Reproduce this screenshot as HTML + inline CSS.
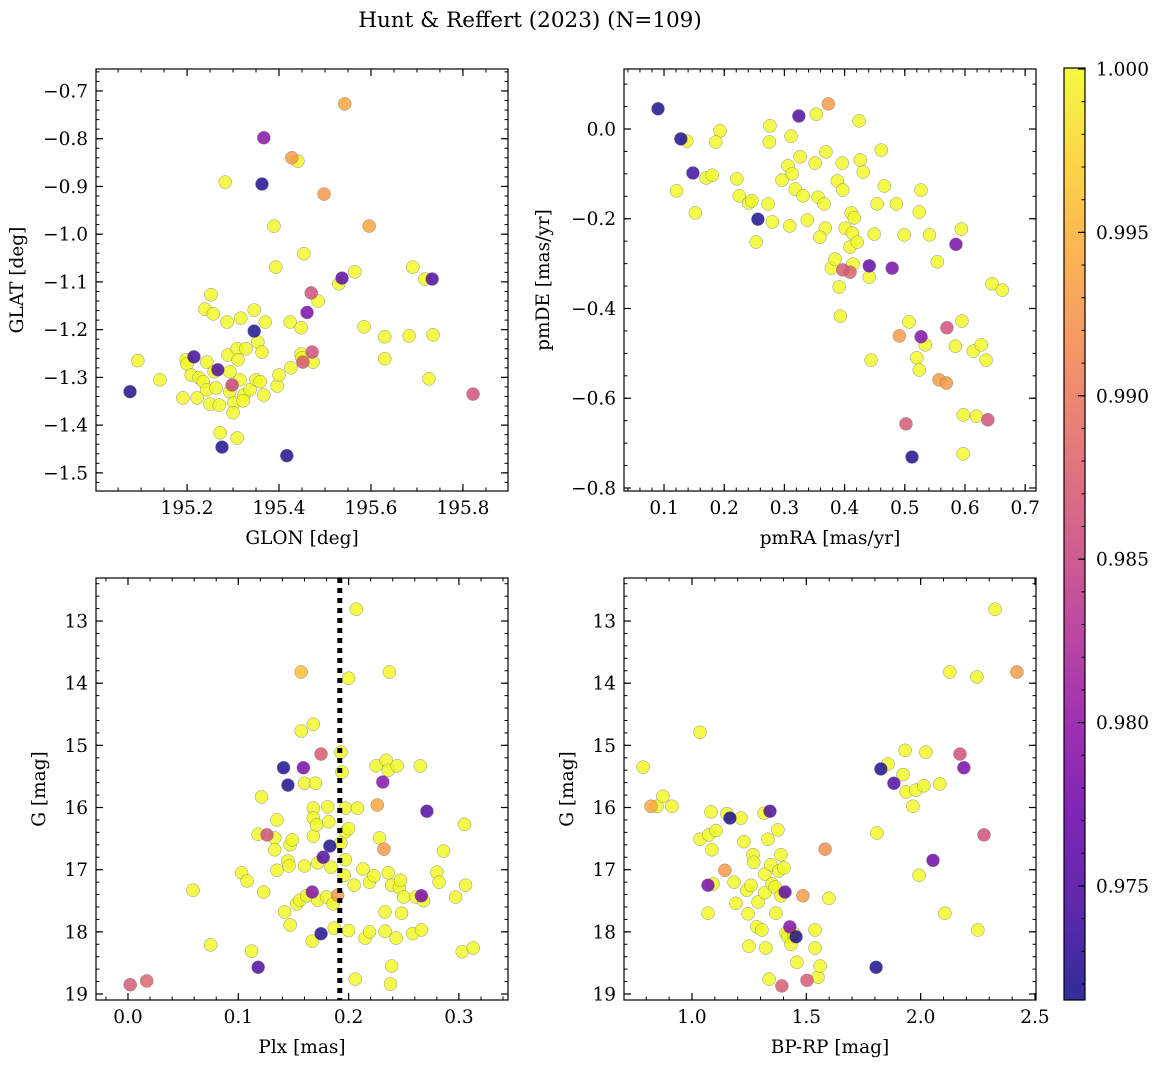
<!DOCTYPE html>
<html><head><meta charset="utf-8"><style>
html,body{margin:0;padding:0;background:#fff;}
svg{display:block;font-family:"DejaVu Serif","Liberation Serif",serif;}
</style></head><body>
<svg id="fig" width="1161" height="1068" viewBox="0 0 1161 1068" xmlns="http://www.w3.org/2000/svg">
<text x="530" y="27" font-size="21.5" text-anchor="middle">Hunt &amp; Reffert (2023) (N=109)</text>
</svg>
<script>
// ---- data: top-left (GLON vs GLAT) ----
const glon=[195.076,195.093,195.141,195.191,195.198,195.200,195.215,195.209,195.222,195.226,195.235,195.243,195.239,195.252,195.257,195.243,195.250,195.259,195.263,195.270,195.272,195.276,195.267,195.283,195.287,195.289,195.293,195.298,195.293,195.302,195.300,195.309,195.311,195.315,195.309,195.317,195.324,195.322,195.328,195.337,195.346,195.346,195.350,195.354,195.363,195.367,195.359,195.367,195.363,195.389,195.393,195.370,195.396,195.400,195.426,195.424,195.448,195.428,195.441,195.448,195.450,195.417,195.452,195.454,195.461,195.470,195.472,195.474,195.485,195.498,195.530,195.537,195.565,195.543,195.585,195.596,195.630,195.630,195.683,195.691,195.717,195.726,195.733,195.735,195.822];
const glat=[-1.330,-1.265,-1.305,-1.343,-1.263,-1.272,-1.257,-1.295,-1.343,-1.301,-1.309,-1.268,-1.157,-1.127,-1.167,-1.326,-1.356,-1.288,-1.322,-1.358,-1.416,-1.446,-1.284,-0.891,-1.184,-1.253,-1.288,-1.316,-1.330,-1.353,-1.374,-1.240,-1.263,-1.305,-1.427,-1.176,-1.337,-1.349,-1.240,-1.326,-1.203,-1.159,-1.305,-1.226,-1.247,-1.337,-1.309,-0.798,-0.895,-0.983,-1.069,-1.184,-1.318,-1.295,-1.280,-1.184,-1.196,-0.840,-0.847,-1.251,-1.259,-1.464,-1.268,-1.041,-1.164,-1.123,-1.247,-1.268,-1.140,-0.916,-1.104,-1.092,-1.079,-0.727,-1.194,-0.983,-1.215,-1.261,-1.213,-1.069,-1.094,-1.303,-1.094,-1.211,-1.335];
const probTL=[.972,1,1,1,1,1,.974,1,1,1,1,1,1,1,1,1,1,1,1,1,1,.972,.975,1,1,1,1,.985,1,1,1,1,1,1,1,1,1,1,1,1,.972,1,1,1,1,1,1,.979,.972,1,1,1,1,1,1,1,1,.993,1,1,1,.972,.987,1,.978,.986,.986,1,1,.993,1,.976,1,.994,1,.994,1,1,1,1,1,1,.975,1,.986];
// ---- data: top-right (pmRA vs pmDE) ----
const pmra=[0.090,0.128,0.121,0.138,0.148,0.152,0.193,0.186,0.170,0.180,0.221,0.225,0.241,0.246,0.256,0.253,0.276,0.275,0.273,0.280,0.296,0.306,0.311,0.313,0.309,0.318,0.326,0.324,0.331,0.338,0.351,0.353,0.356,0.366,0.368,0.369,0.373,0.359,0.378,0.388,0.396,0.397,0.384,0.391,0.401,0.409,0.411,0.416,0.413,0.393,0.397,0.409,0.414,0.421,0.424,0.426,0.431,0.441,0.441,0.444,0.449,0.454,0.461,0.466,0.479,0.486,0.491,0.502,0.499,0.507,0.512,0.520,0.524,0.524,0.527,0.534,0.541,0.554,0.557,0.569,0.570,0.585,0.584,0.594,0.595,0.597,0.597,0.614,0.619,0.627,0.635,0.638,0.645,0.662,0.527];
const pmde=[0.045,-0.022,-0.138,-0.027,-0.098,-0.187,-0.004,-0.029,-0.109,-0.103,-0.111,-0.149,-0.165,-0.160,-0.201,-0.252,0.007,-0.029,-0.167,-0.207,-0.114,-0.082,-0.016,-0.100,-0.216,-0.134,-0.062,0.029,-0.149,-0.203,-0.076,0.033,-0.152,-0.167,-0.221,-0.051,0.056,-0.241,-0.310,-0.116,-0.076,-0.136,-0.290,-0.352,-0.221,-0.263,-0.187,-0.198,-0.232,-0.417,-0.314,-0.319,-0.301,-0.252,0.018,-0.069,-0.096,-0.305,-0.330,-0.515,-0.234,-0.167,-0.047,-0.127,-0.310,-0.167,-0.461,-0.657,-0.236,-0.430,-0.731,-0.510,-0.185,-0.537,-0.463,-0.481,-0.236,-0.296,-0.559,-0.566,-0.443,-0.257,-0.484,-0.223,-0.428,-0.637,-0.724,-0.495,-0.640,-0.481,-0.515,-0.648,-0.345,-0.359,-0.136];
const probTR=[.972,.972,1,1,.974,1,1,1,1,1,1,1,1,1,.972,1,1,1,1,1,1,1,1,1,1,1,1,.975,1,1,1,1,1,1,1,1,.993,1,1,1,1,1,1,1,1,1,1,1,1,1,.987,.988,1,1,1,1,1,.976,1,1,1,1,1,1,.978,1,.993,.987,1,1,.972,1,1,1,.979,1,1,1,.993,.993,.986,.978,1,1,1,1,1,1,1,1,1,.986,1,1,1];
// ---- data: bottom-left (Plx vs G) ----
const plx=[0.002,0.017,0.059,0.075,0.103,0.108,0.112,0.118,0.118,0.121,0.123,0.126,0.133,0.133,0.135,0.135,0.141,0.142,0.145,0.145,0.146,0.147,0.147,0.149,0.153,0.156,0.157,0.157,0.159,0.160,0.160,0.162,0.167,0.168,0.168,0.168,0.168,0.167,0.170,0.171,0.172,0.172,0.175,0.175,0.177,0.180,0.181,0.182,0.183,0.184,0.186,0.187,0.190,0.193,0.194,0.197,0.197,0.200,0.193,0.197,0.196,0.200,0.200,0.205,0.206,0.207,0.208,0.213,0.215,0.219,0.219,0.223,0.225,0.226,0.228,0.231,0.232,0.233,0.233,0.234,0.236,0.237,0.236,0.238,0.239,0.239,0.243,0.244,0.246,0.247,0.248,0.250,0.258,0.261,0.265,0.266,0.268,0.266,0.271,0.280,0.282,0.286,0.297,0.303,0.306,0.305,0.313];
const gBL=[18.85,18.79,17.33,18.21,17.05,17.18,18.31,18.57,16.43,15.83,17.36,16.44,16.49,16.68,16.20,17.01,15.36,17.68,15.64,16.86,16.94,17.89,16.60,16.52,17.55,17.49,13.82,14.77,15.36,15.61,16.94,17.42,18.15,14.66,16.01,16.17,16.46,17.36,15.61,16.28,16.89,17.49,18.03,15.14,16.80,17.44,15.99,16.23,16.62,16.96,17.55,17.94,17.41,15.11,15.43,16.01,16.39,16.34,16.57,16.84,17.09,17.98,13.92,17.25,18.76,12.81,16.01,16.99,18.10,17.20,18.00,17.10,15.33,15.96,16.49,15.59,16.67,17.68,17.99,15.24,15.40,13.82,17.05,18.84,18.55,17.25,18.10,15.33,17.29,17.17,17.70,17.44,18.03,17.44,15.33,17.42,17.50,17.97,16.06,17.04,17.20,16.70,17.44,18.32,17.25,16.27,18.26];
const probBL=[.987,.988,1,1,1,1,1,.975,1,1,1,.986,1,1,1,1,.972,1,.972,1,1,1,1,1,1,1,.996,1,.978,1,1,1,1,1,1,1,1,.979,1,1,1,1,.972,.987,.975,1,1,1,.972,1,1,1,.993,1,1,1,1,1,1,1,1,1,1,1,1,1,1,1,1,1,1,1,1,.994,1,.979,.993,1,1,1,1,1,1,1,1,1,1,1,1,1,1,1,1,1,1,.978,1,1,.975,1,1,1,1,1,1,1,1];
const threshPlx=[0.192];
// ---- data: bottom-right (BP-RP vs G) ----
const bprp=[0.786,0.821,0.847,0.873,0.912,1.035,1.035,1.070,1.070,1.074,1.087,1.083,1.092,1.105,1.144,1.153,1.166,1.184,1.192,1.214,1.227,1.240,1.245,1.249,1.258,1.267,1.270,1.284,1.289,1.306,1.315,1.319,1.319,1.323,1.332,1.337,1.341,1.345,1.350,1.363,1.367,1.376,1.380,1.389,1.389,1.393,1.402,1.407,1.411,1.420,1.428,1.433,1.446,1.455,1.459,1.485,1.503,1.538,1.538,1.551,1.560,1.582,1.599,1.805,1.809,1.826,1.857,1.883,1.923,1.932,1.936,1.966,1.979,1.993,2.014,2.023,2.054,2.084,2.106,2.128,2.172,2.189,2.246,2.250,2.277,2.325,2.421];
const gBR=[15.35,15.98,15.98,15.82,15.98,14.79,16.51,17.25,17.70,16.44,16.68,16.07,17.23,16.37,17.01,16.10,16.17,17.20,17.54,16.17,16.55,17.33,17.71,18.23,17.25,16.76,16.88,17.92,17.52,17.97,16.09,17.07,17.37,18.26,16.51,18.76,16.06,16.92,17.23,17.28,17.70,16.36,17.02,16.76,17.42,18.87,16.97,17.36,18.02,18.08,17.92,18.20,18.03,18.08,18.49,17.42,18.78,18.26,17.97,18.73,18.55,16.67,17.46,18.57,16.41,15.38,15.30,15.61,15.47,15.08,15.75,15.98,15.72,17.09,15.65,15.11,16.85,15.62,17.70,13.82,15.14,15.36,13.90,17.97,16.44,12.81,13.82];
const probBR=[1,.994,1,1,1,1,1,.978,1,1,1,1,1,1,.993,1,.972,1,1,1,1,1,1,1,1,1,1,1,1,1,1,1,1,1,1,1,.975,1,1,1,1,1,1,1,1,.987,1,.976,1,1,.979,1,1,.972,1,.993,.987,1,1,1,1,.992,1,.972,1,.972,1,.975,1,1,1,1,1,1,1,1,.977,1,1,1,.986,.978,1,1,.986,1,.993];
// colorbar
const cbTicks=[1.000,0.995,0.990,0.985,0.980,0.975];
const cbMin=0.97151, cbMax=1.00003;

const NS="http://www.w3.org/2000/svg";
const fig=document.getElementById('fig');
const FS=18.5;
function mk(tag,attrs,parent){const e=document.createElementNS(NS,tag);for(const k in attrs)e.setAttribute(k,attrs[k]);(parent||fig).appendChild(e);return e;}
const stops=[[13,8,135],[65,4,157],[106,0,168],[143,13,164],[177,42,144],[204,71,120],[225,100,98],[242,132,75],[252,166,54],[252,206,37],[240,249,33]];
function plasma(t){t=Math.max(0,Math.min(1,t));const f=t*10,i=Math.min(9,Math.floor(f)),r=f-i;const a=stops[i],b=stops[i+1];return 'rgb('+a.map((v,k)=>Math.round(v+(b[k]-v)*r)).join(',')+')';}
function pcol(p){return plasma((p-cbMin)/(cbMax-cbMin));}
function fmt(v,d){const s=Math.abs(v).toFixed(d);return (v<-1e-9?'\u2212':'')+s;}

function panel(o){
  const sx=v=>o.px0+(v-o.x0)/(o.x1-o.x0)*(o.px1-o.px0);
  const sy=v=>o.py0+(v-o.y0)/(o.y1-o.y0)*(o.py1-o.py0);
  const g=mk('g',{});
  
  
  const lo=Math.min(o.x0,o.x1),hi=Math.max(o.x0,o.x1);
  const tk=(a,b,step)=>{const r=[];for(let v=Math.ceil(a/step-1e-6)*step;v<=b+1e-9;v+=step)r.push(v);return r;};
  tk(lo,hi,o.xminor).forEach(v=>{const x=sx(v);mk('line',{x1:x,x2:x,y1:o.py1,y2:o.py1-3.5,stroke:'#000','stroke-width':1},g);mk('line',{x1:x,x2:x,y1:o.py0,y2:o.py0+3.5,stroke:'#000','stroke-width':1},g);});
  tk(lo,hi,o.xmajor).forEach(v=>{const x=sx(v);mk('line',{x1:x,x2:x,y1:o.py1,y2:o.py1-7,stroke:'#000','stroke-width':1.2},g);mk('line',{x1:x,x2:x,y1:o.py0,y2:o.py0+7,stroke:'#000','stroke-width':1.2},g);
    const t=mk('text',{x:x,y:o.py1+23,'font-size':FS,'text-anchor':'middle'},g);t.textContent=fmt(v,o.xd);
    
    });
  const ylo=Math.min(o.y0,o.y1),yhi=Math.max(o.y0,o.y1);
  tk(ylo,yhi,o.yminor).forEach(v=>{const y=sy(v);mk('line',{x1:o.px0,x2:o.px0+3.5,y1:y,y2:y,stroke:'#000','stroke-width':1},g);mk('line',{x1:o.px1,x2:o.px1-3.5,y1:y,y2:y,stroke:'#000','stroke-width':1},g);});
  tk(ylo,yhi,o.ymajor).forEach(v=>{const y=sy(v);mk('line',{x1:o.px0,x2:o.px0+7,y1:y,y2:y,stroke:'#000','stroke-width':1.2},g);mk('line',{x1:o.px1,x2:o.px1-7,y1:y,y2:y,stroke:'#000','stroke-width':1.2},g);
    const t=mk('text',{x:o.px0-8,y:y+6.5,'font-size':FS,'text-anchor':'end'},g);t.textContent=fmt(v,o.yd);
    
    });
  const xl=mk('text',{x:(o.px0+o.px1)/2,y:o.py1+53,'font-size':FS,'text-anchor':'middle'},g);xl.textContent=o.xlabel;
  
  
  const yl=mk('text',{x:0,y:0,'font-size':FS,'text-anchor':'middle',transform:`translate(${o.px0-o.ylo},${(o.py0+o.py1)/2}) rotate(-90)`},g);yl.textContent=o.ylabel;
  
  
  const idx=o.xs.map((_,i)=>i).sort((a,b)=>o.ps[b]-o.ps[a]);
  idx.forEach(i=>{const c=mk('circle',{cx:sx(o.xs[i]),cy:sy(o.ys[i]),r:6.5,fill:pcol(o.ps[i]),'fill-opacity':0.82,stroke:'#777','stroke-width':0.5,'stroke-opacity':0.8},g);
    
    });
  if(o.vline){o.vline.forEach(v=>{const l=mk('line',{x1:sx(v),x2:sx(v),y1:o.py0,y2:o.py1,stroke:'#000','stroke-width':5,'stroke-dasharray':'5,5'},g);
    
    });}
  const fr=mk('rect',{x:o.px0,y:o.py0,width:o.px1-o.px0,height:o.py1-o.py0,fill:'none',stroke:'#000','stroke-width':1.2},g);
  
  
}
panel({name:'glon-glat-panel',px0:96,px1:508,py0:69,py1:491,x0:195.002,x1:195.898,y0:-0.654,y1:-1.538,xmajor:0.2,xminor:0.05,ymajor:0.1,yminor:0.02,xd:1,yd:1,xs:glon,ys:glat,ps:probTL,xlabel:'GLON [deg]',ylabel:'GLAT [deg]',ylo:73});
panel({name:'pm-panel',px0:624,px1:1036,py0:69,py1:491,x0:0.0335,x1:0.718,y0:0.1337,y1:-0.8067,xmajor:0.1,xminor:0.02,ymajor:0.2,yminor:0.05,xd:1,yd:1,xs:pmra,ys:pmde,ps:probTR,xlabel:'pmRA [mas/yr]',ylabel:'pmDE [mas/yr]',ylo:75});
panel({name:'plx-g-panel',px0:96,px1:508,py0:578,py1:1000,x0:-0.029,x1:0.3445,y0:12.308,y1:19.0965,xmajor:0.1,xminor:0.02,ymajor:1,yminor:0.2,xd:1,yd:0,xs:plx,ys:gBL,ps:probBL,xlabel:'Plx [mas]',ylabel:'G [mag]',ylo:51,vline:threshPlx});
panel({name:'cmd-panel',px0:624,px1:1036,py0:578,py1:1000,x0:0.7027,x1:2.5044,y0:12.308,y1:19.0965,xmajor:0.5,xminor:0.1,ymajor:1,yminor:0.2,xd:1,yd:0,xs:bprp,ys:gBR,ps:probBR,xlabel:'BP-RP [mag]',ylabel:'G [mag]',ylo:51});

const defs=mk('defs',{});
const lg=mk('linearGradient',{id:'cbg',x1:0,y1:1,x2:0,y2:0},defs);
stops.forEach((s,i)=>mk('stop',{offset:(i/10),'stop-color':`rgb(${s.join(',')})`},lg));
const cb=mk('g',{});


const cy0=68,cy1=1000,cx0=1064,cx1=1085;
const cyv=v=>cy1-(v-cbMin)/(cbMax-cbMin)*(cy1-cy0);
mk('rect',{x:cx0,y:cy0,width:cx1-cx0,height:cy1-cy0,fill:'url(#cbg)','fill-opacity':0.85},cb);
for(let v=0.972;v<=1.00001;v+=0.001){const y=cyv(v);mk('line',{x1:cx1,x2:cx1-3.5,y1:y,y2:y,stroke:'#000','stroke-width':1},cb);}
cbTicks.forEach(v=>{const y=cyv(v);mk('line',{x1:cx1,x2:cx1-7,y1:y,y2:y,stroke:'#000','stroke-width':1.2},cb);
  const t=mk('text',{x:1096,y:y+6.5,'font-size':FS},cb);t.textContent=v.toFixed(3);
  
  });
mk('rect',{x:cx0,y:cy0,width:cx1-cx0,height:cy1-cy0,fill:'none',stroke:'#000','stroke-width':1.2},cb);
</script>
</body></html>
